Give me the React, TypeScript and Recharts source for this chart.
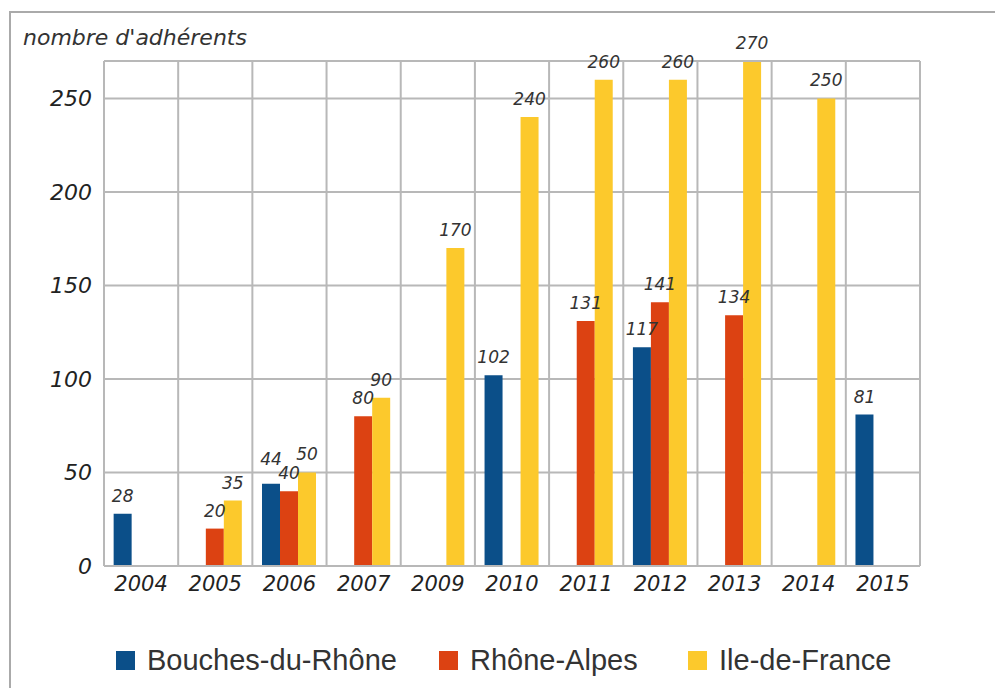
import {
  BarChart,
  Bar,
  XAxis,
  YAxis,
  CartesianGrid,
  LabelList,
  Legend,
  ReferenceLine,
} from "recharts";

const years = ["2004", "2005", "2006", "2007", "2009", "2010", "2011", "2012", "2013", "2014", "2015"];
const bouchesDuRhone = [28, null, 44, null, null, 102, null, 117, null, null, 81];
const rhoneAlpes = [null, 20, 40, 80, null, null, 131, 141, 134, null, null];
const ileDeFrance = [null, 35, 50, 90, 170, 240, 260, 260, 270, 250, null];
const yTicks = [0, 50, 100, 150, 200, 250];

const series = [
  { key: "bdr", name: "Bouches-du-Rhône", color: "#0b4f89", values: bouchesDuRhone },
  { key: "ra", name: "Rhône-Alpes", color: "#dc4212", values: rhoneAlpes },
  { key: "idf", name: "Ile-de-France", color: "#fcc92c", values: ileDeFrance },
];

const data = years.map((year, i) => ({
  year,
  bdr: bouchesDuRhone[i],
  ra: rhoneAlpes[i],
  idf: ileDeFrance[i],
}));

const GRID = "#b8b8b8";
const ITALIC = "'DejaVu Sans', sans-serif";

// value label above each bar, nothing for missing values.
// the label index skips empty bars, so the year is found from the value
// (values are unique within a series); lifted when the next bar is about as tall
function renderLabel(props: any, si: number) {
  const { x, y, width, value } = props;
  if (value === null || value === undefined || value === "") return null;
  const v = Number(value);
  const idx = series[si].values.indexOf(v);
  const next = series[si + 1];
  const nextVal = next && idx >= 0 ? next.values[idx] : null;
  const lift = nextVal !== null && nextVal !== undefined && Math.abs(nextVal - v) < 8 ? 7 : 0;
  return (
    <text
      x={Number(x) + Number(width) / 2}
      y={Number(y) - 12 - lift}
      textAnchor="middle"
      fontFamily={ITALIC}
      fontStyle="italic"
      fontSize={17}
      fill="#333"
    >
      {value}
    </text>
  );
}

function LegendContent() {
  const widths = [323, 249, 260];
  return (
    <div
      style={{
        display: "flex",
        alignItems: "center",
        height: 56,
        paddingLeft: 116,
        fontFamily: "'Liberation Sans', Arial, sans-serif",
        fontSize: 29,
        color: "#333",
      }}
    >
      {series.map((s, i) => (
        <div key={s.key} style={{ display: "flex", alignItems: "center", width: widths[i] }}>
          <span style={{ width: 19, height: 19, background: s.color, marginRight: 12, display: "inline-block" }} />
          <span>{s.name}</span>
        </div>
      ))}
    </div>
  );
}

export default function App() {
  return (
    <div
      style={{
        position: "absolute",
        top: 0,
        left: 0,
        width: 995,
        height: 688,
        background: "#fff",
      }}
    >
      {/* cropped frame: only top and left edges show */}
      <div
        style={{
          position: "absolute",
          top: 11,
          left: 9,
          right: 0,
          bottom: 0,
          borderTop: "2px solid #aaa",
          borderLeft: "2px solid #aaa",
        }}
      />
      <div
        style={{
          position: "absolute",
          left: 23,
          top: 25,
          fontFamily: ITALIC,
          fontStyle: "italic",
          fontSize: 22,
          color: "#333",
        }}
      >
        nombre d'adhérents
      </div>
      <div style={{ position: "absolute", top: 0, left: 0 }}>
        <BarChart
          width={995}
          height={688}
          data={data}
          margin={{ top: 61, right: 75, bottom: 0, left: 0 }}
          barCategoryGap="13%"
          barGap={0}
        >
          <CartesianGrid
            stroke={GRID}
            strokeWidth={2}
            verticalCoordinatesGenerator={({ offset }: any) =>
              Array.from({ length: years.length + 1 }, (_, i) => offset.left + (i * offset.width) / years.length)
            }
          />
          <ReferenceLine y={270} stroke={GRID} strokeWidth={2} />
          <XAxis
            dataKey="year"
            height={66}
            axisLine={{ stroke: GRID, strokeWidth: 2 }}
            tickLine={false}
            tickSize={0}
            tickMargin={10}
            tick={{ fontFamily: ITALIC, fontStyle: "italic", fontSize: 21, fill: "#222" }}
            interval={0}
          />
          <YAxis
            width={104}
            domain={[0, 270]}
            ticks={yTicks}
            axisLine={false}
            tickLine={false}
            tickSize={0}
            tickMargin={12}
            tick={{ fontFamily: ITALIC, fontStyle: "italic", fontSize: 22, fill: "#222" }}
          />
          <Legend verticalAlign="bottom" height={56} wrapperStyle={{ left: 0, width: 995 }} content={<LegendContent />} />
          {series.map((s, si) => (
            <Bar key={s.key} dataKey={s.key} name={s.name} fill={s.color} isAnimationActive={false}>
              <LabelList dataKey={s.key} content={(p: any) => renderLabel(p, si)} />
            </Bar>
          ))}
        </BarChart>
      </div>
    </div>
  );
}
